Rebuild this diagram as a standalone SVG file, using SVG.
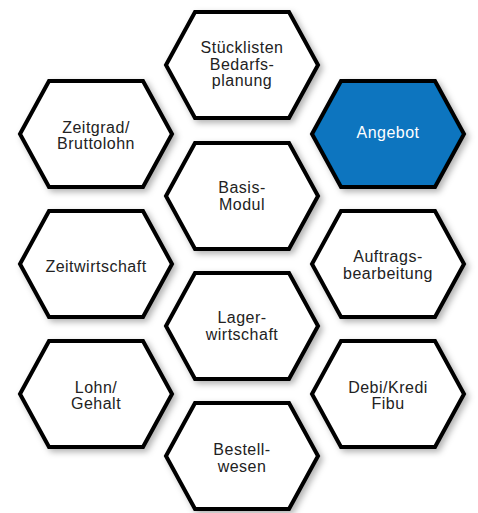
<svg xmlns="http://www.w3.org/2000/svg" width="478" height="513" viewBox="0 0 478 513">
<style>
.hex{fill:#ffffff;stroke:#000000;stroke-width:4;stroke-linejoin:miter}
.hex.blue{fill:#0775BF}
.t{font-family:"Liberation Sans",Arial,sans-serif;font-size:16px;letter-spacing:0.5px;fill:#222222;text-anchor:middle}
.t.w{fill:#ffffff}
</style>
<defs>
<filter id="sh" x="-20%" y="-20%" width="140%" height="140%">
<feDropShadow dx="3" dy="3" stdDeviation="3" flood-color="#000000" flood-opacity="0.3"/>
</filter>
<polygon id="hx" points="-76,0 -47,-53 47,-53 76,0 47,53 -47,53"/>
</defs>
<rect width="478" height="513" fill="#ffffff"/>
<g id="connectors"></g>
<g id="stuecklisten" transform="translate(242,65)">
<use href="#hx" class="hex" filter="url(#sh)"/>
<text class="t" x="0" y="-12">Stücklisten</text>
<text class="t" x="0" y="4.5">Bedarfs-</text>
<text class="t" x="0" y="21">planung</text>
</g>
<g id="basis" transform="translate(242,196)">
<use href="#hx" class="hex" filter="url(#sh)"/>
<text class="t" x="0" y="-3">Basis-</text>
<text class="t" x="0" y="13.5">Modul</text>
</g>
<g id="lager" transform="translate(242,326)">
<use href="#hx" class="hex" filter="url(#sh)"/>
<text class="t" x="0" y="-3">Lager-</text>
<text class="t" x="0" y="13.5">wirtschaft</text>
</g>
<g id="bestell" transform="translate(242,456)">
<use href="#hx" class="hex" filter="url(#sh)"/>
<text class="t" x="0" y="-1">Bestell-</text>
<text class="t" x="0" y="15.5">wesen</text>
</g>
<g id="zeitgrad" transform="translate(96,134)">
<use href="#hx" class="hex" filter="url(#sh)"/>
<text class="t" x="0" y="-1">Zeitgrad/</text>
<text class="t" x="0" y="15">Bruttolohn</text>
</g>
<g id="zeitwirtschaft" transform="translate(96,264)">
<use href="#hx" class="hex" filter="url(#sh)"/>
<text class="t" x="0" y="7.5">Zeitwirtschaft</text>
</g>
<g id="lohn" transform="translate(96,394)">
<use href="#hx" class="hex" filter="url(#sh)"/>
<text class="t" x="0" y="-1.5">Lohn/</text>
<text class="t" x="0" y="15">Gehalt</text>
</g>
<g id="angebot" transform="translate(388,134)">
<use href="#hx" class="hex blue" filter="url(#sh)"/>
<text class="t w" x="0" y="3.5">Angebot</text>
</g>
<g id="auftrags" transform="translate(388,264)">
<use href="#hx" class="hex" filter="url(#sh)"/>
<text class="t" x="0" y="-2">Auftrags-</text>
<text class="t" x="0" y="14.5">bearbeitung</text>
</g>
<g id="debi" transform="translate(388,394)">
<use href="#hx" class="hex" filter="url(#sh)"/>
<text class="t" x="0" y="-1.5">Debi/Kredi</text>
<text class="t" x="0" y="15">Fibu</text>
</g>
</svg>
